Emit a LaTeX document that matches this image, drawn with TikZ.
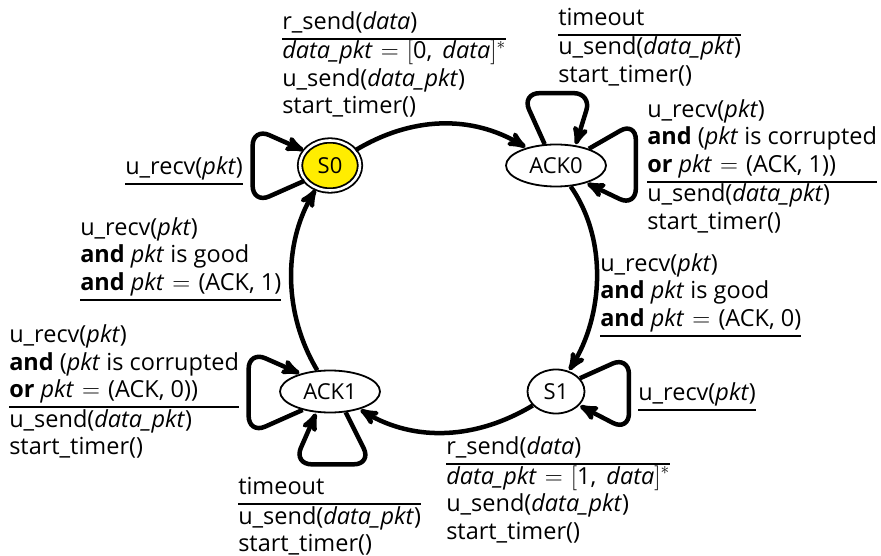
\documentclass[tikz,border=0pt]{standalone}
\usepackage{fontspec}
\setmainfont{Open Sans}
\usepackage{tikz}
\usetikzlibrary{arrows,automata,shapes.geometric}
\definecolor{stateyellow}{RGB}{255,237,0}
\setlength{\arrayrulewidth}{2pt}
\newcommand{\trans}[1]{\begin{tabular}{@{}l@{}}#1\end{tabular}}
\newcommand{\eq}{\ \hspace{2pt}$=$\hspace{2pt}\ }

\begin{document}
\begin{tikzpicture}[->,>=stealth',shorten >=1pt,auto,node distance=226pt,
                    line width=4.5pt,x=1pt,y=1pt]
\tikzstyle{every state}=[ellipse,fill=white,draw=black,text=black,line width=1.8pt,
                         inner sep=0pt,minimum width=100pt,minimum height=42pt,
                         font=\fontsize{22}{26}\selectfont]
\tikzstyle{selfloop}=[rounded corners=18pt]
\tikzstyle{ring}=[min distance=65pt,max distance=65pt]
\tikzstyle{lbl}=[anchor=north west,inner sep=0pt,font=\fontsize{23.5}{27.5}\selectfont]
\useasboundingbox (0,0) rectangle (881,555);
\node[state,accepting,fill=stateyellow,line width=1.8pt,double distance=2.6pt,
      minimum width=60pt,minimum height=50pt] (S0) at (330,389.5) {S0};
\node[state] (ACK0) [right of=S0] {ACK0};
\node[state,minimum width=57pt,minimum height=44pt] (S1) [below of=ACK0] {S1};
\node[state] (ACK1) [left of=S1] {ACK1};
\path (S0)   edge [ring,out=31,in=149]   (ACK0)
      (ACK0) edge [ring,out=-55,in=58]   (S1)
      (S1)   edge [ring,out=211,in=-31]  (ACK1)
      (ACK1) edge [ring,out=121,in=-121] (S0);
% self loops
\draw[selfloop] (S0.211) -- ++(-52,-23) -- ++(0,76) -- (S0.150);
\draw[selfloop] (ACK0.118) -- ++(-23,51) -- ++(70,0) -- (ACK0.46);
\draw[selfloop] (ACK0.27) -- ++(47,27) -- ++(0,-85) -- (ACK0.-30);
\draw[selfloop] (S1.29) -- ++(49,22) -- ++(0,-75) -- (S1.-31);
\draw[selfloop] (ACK1.214) -- ++(-54,-24) -- ++(0,83) -- (ACK1.149);
\draw[selfloop] (ACK1.307) -- ++(26,-52) -- ++(-78,0) -- (ACK1.237);
% transition labels
\node[lbl] (send0) at (280,547) {\trans{r\_send(\textit{data})\\ \hline
  \textit{data\_pkt}\eq$[$0,\,\ \textit{data}$]^{*}$\\
  u\_send(\textit{data\_pkt})\\ start\_timer()}};
\node[lbl] (tout0) at (556,551) {\trans{timeout\\ \hline
  u\_send(\textit{data\_pkt})\\ start\_timer()}};
\node[lbl] (bad0) at (645,459) {\trans{u\_recv(\textit{pkt})\\
  \textbf{and} (\textit{pkt} is corrupted\\
  \textbf{or} \textit{pkt}\eq(ACK, 1))\\ \hline
  u\_send(\textit{data\_pkt})\\ start\_timer()}};
\node[lbl] (good0) at (598,305) {\trans{u\_recv(\textit{pkt})\\
  \textbf{and} \textit{pkt} is good\\
  \textbf{and} \textit{pkt}\eq(ACK, 0)\\ \hline}};
\node[lbl] (recv1) at (636,176) {\trans{u\_recv(\textit{pkt})\\ \hline}};
\node[lbl] (send1) at (444,122) {\trans{r\_send(\textit{data})\\ \hline
  \textit{data\_pkt}\eq$[$1,\,\ \textit{data}$]^{*}$\\
  u\_send(\textit{data\_pkt})\\ start\_timer()}};
\node[lbl] (tout1) at (236,82) {\trans{timeout\\ \hline
  u\_send(\textit{data\_pkt})\\ start\_timer()}};
\node[lbl] (bad1) at (7,234) {\trans{u\_recv(\textit{pkt})\\
  \textbf{and} (\textit{pkt} is corrupted\\
  \textbf{or} \textit{pkt}\eq(ACK, 0))\\ \hline
  u\_send(\textit{data\_pkt})\\ start\_timer()}};
\node[lbl] (good1) at (78,341) {\trans{u\_recv(\textit{pkt})\\
  \textbf{and} \textit{pkt} is good\\
  \textbf{and} \textit{pkt}\eq(ACK, 1)\\ \hline}};
\node[lbl] (recv0) at (123,402) {\trans{u\_recv(\textit{pkt})\\ \hline}};
\end{tikzpicture}
\end{document}
